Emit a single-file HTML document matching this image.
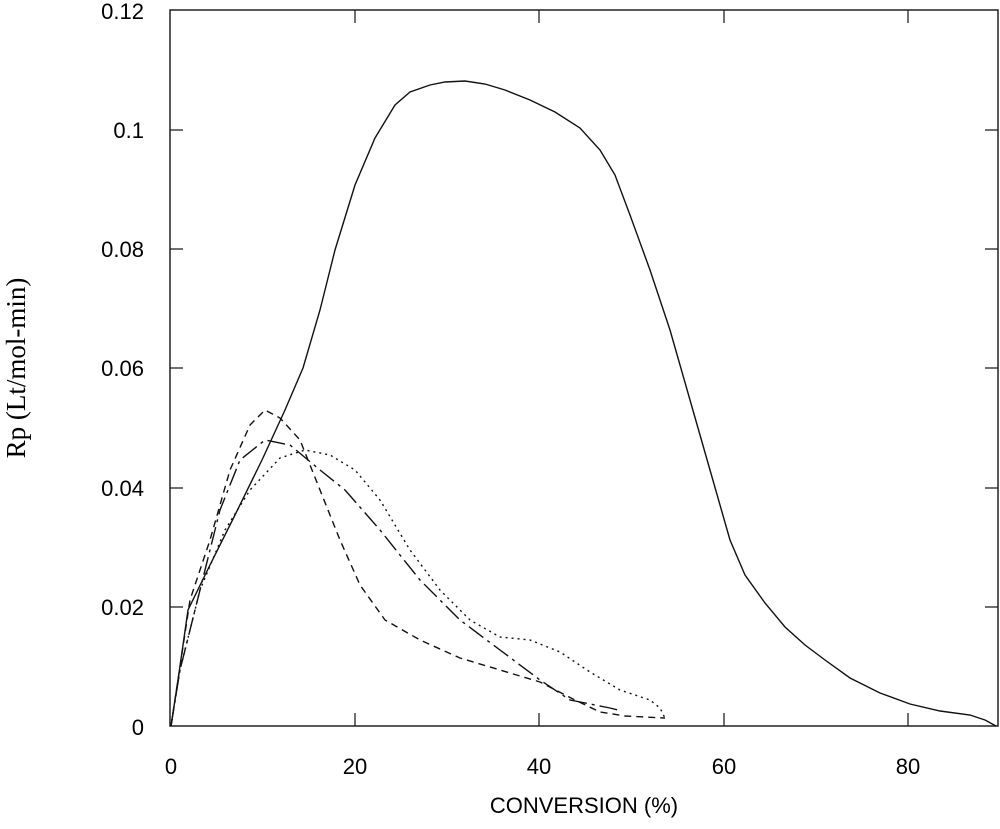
<!DOCTYPE html><html><head><style>body{margin:0;background:#fff}svg{display:block}text{font-family:"Liberation Sans",sans-serif;font-size:22px}</style></head><body>
<svg width="1000" height="829" viewBox="0 0 1000 829">
<rect x="170" y="10" width="828" height="716" fill="none" stroke="#222" stroke-width="1.5"/>
<g stroke="#222" stroke-width="1.3">
<line x1="355" y1="726" x2="355" y2="713"/><line x1="539" y1="726" x2="539" y2="713"/><line x1="724" y1="726" x2="724" y2="713"/><line x1="908" y1="726" x2="908" y2="713"/>
<line x1="355" y1="10" x2="355" y2="23"/><line x1="539" y1="10" x2="539" y2="23"/><line x1="724" y1="10" x2="724" y2="23"/><line x1="908" y1="10" x2="908" y2="23"/>
<line x1="170" y1="607" x2="183" y2="607"/><line x1="170" y1="488" x2="183" y2="488"/><line x1="170" y1="368" x2="183" y2="368"/><line x1="170" y1="249" x2="183" y2="249"/><line x1="170" y1="130" x2="183" y2="130"/>
<line x1="998" y1="607" x2="985" y2="607"/><line x1="998" y1="488" x2="985" y2="488"/><line x1="998" y1="368" x2="985" y2="368"/><line x1="998" y1="249" x2="985" y2="249"/><line x1="998" y1="130" x2="985" y2="130"/>
</g>
<g text-anchor="end"><text x="144" y="735">0</text><text x="144" y="615">0.02</text><text x="144" y="496">0.04</text><text x="144" y="376">0.06</text><text x="144" y="257">0.08</text><text x="144" y="138">0.1</text><text x="144" y="19">0.12</text></g>
<g text-anchor="middle"><text x="171" y="774">0</text><text x="355" y="774">20</text><text x="539" y="774">40</text><text x="724" y="774">60</text><text x="908" y="774">80</text>
<text x="584" y="813">CONVERSION (%)</text>
<text transform="translate(25,368) rotate(-90)" style="font-family:'Liberation Serif',serif;font-size:27px">Rp  (Lt/mol-min)</text></g>
<g fill="none" stroke="#111" stroke-width="1.4">
<polyline points="171,726 178,680 188,610 210,565 235,515 262,460 285,410 303,368 320,310 335,250 355,185 375,138 395,105 410,92 430,85 445,82 465,81 485,84 505,90 530,100 555,112 580,128 600,150 615,175 630,215 650,270 670,330 690,400 710,470 730,540 745,575 765,603 785,627 805,645 825,660 850,678 880,693 910,704 940,711 970,715 985,720 996,726"/>
<polyline stroke-dasharray="7,5" points="171,726 178,680 190,600 210,540 230,470 250,425 265,410 280,418 300,440 320,490 340,540 360,585 385,620 420,640 460,658 500,670 540,682 575,700 600,712 625,716 665,718"/>
<polyline stroke-dasharray="18,5,3,5" points="171,726 180,670 200,590 220,510 240,460 265,440 290,445 320,470 345,490 380,530 420,580 460,620 500,650 540,680 570,700 610,708 618,710"/>
<polyline stroke-dasharray="2,4" points="171,726 180,670 200,590 225,530 250,490 280,458 305,450 330,455 355,470 380,500 410,550 440,590 470,620 500,637 530,640 560,652 590,672 620,690 650,700 660,708 665,718"/>
</g></svg></body></html>
